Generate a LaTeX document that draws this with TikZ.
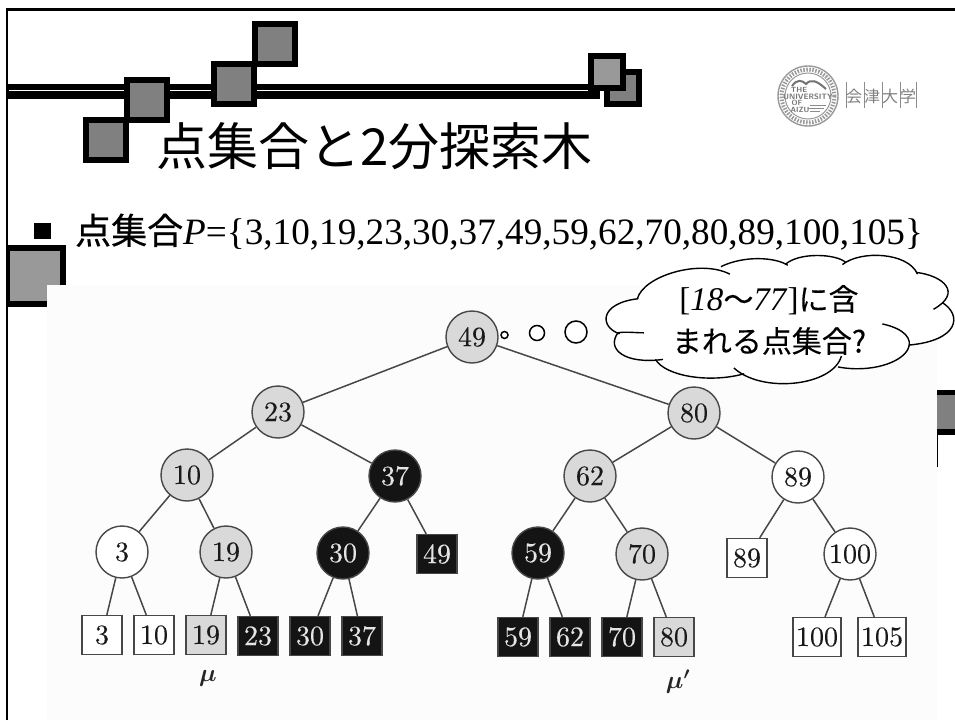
\documentclass[tikz,border=0pt]{standalone}
\usepackage{fontspec}
\setmainfont{Liberation Serif}
\newfontfamily\cjk{Noto Sans CJK JP}
\newfontfamily\cjkm[FakeBold=0.2]{Noto Sans CJK JP}
\newfontfamily\cjkb[FakeBold=0.5]{Noto Sans CJK JP}
\newfontfamily\cmr[FakeBold=0.25]{lmroman10-regular}[Extension=.otf]
\newcommand{\fsz}[1]{\fontsize{#1}{#1}\selectfont}
\begin{document}
\begin{tikzpicture}[x=1pt,y=-1pt,
  sq/.style={draw=black,line width=6pt,fill=#1,minimum size=40pt,inner sep=0pt,outer sep=0pt},
  edge/.style={draw=black!72,line width=1.5pt},
  tn/.style={circle,draw=black!72,line width=1.4pt,minimum size=52pt,inner sep=0pt,font=\cmr\fsz{28},text=black!90},
  gc/.style={tn,fill=black!15},
  wc/.style={tn,fill=white},
  bc/.style={tn,fill=black!92,text=black!10},
  lf/.style={draw=black!72,line width=1.3pt,minimum width=40pt,minimum height=39pt,inner sep=0pt,font=\cmr\fsz{28},text=black!90},
  gl/.style={lf,fill=black!15},
  wl/.style={lf,fill=white},
  bl/.style={lf,fill=black!92,text=black!10},
  wlw/.style={wl,minimum width=48pt},
  bub/.style={draw=black,line width=1.5pt,fill=white,circle,inner sep=0pt},
  cloudline/.style={draw=black,line width=1.4pt},
  logo/.style={draw=black!40},
  logotext/.style={inner sep=0pt,text=black!55,font=\sffamily\bfseries\fsz{7.5}},
]
\useasboundingbox (0,0) rectangle (955,720);
\fill[white] (0,0) rectangle (955,720);
% double rule
\fill[black] (7,84) rectangle (600,99);
\fill[white] (8.5,89.7) rectangle (600,91.2);
% squares
\node[sq=black!50] (s1) at (106,140) {};
\node[sq=black!50] (s2) at (147,100) {};
\node[sq=black!50] (s3) at (234,84) {};
\node[sq=black!50] (s4) at (275,44) {};
\node[sq=black!50,minimum size=32pt] (s5) at (623,88) {};
\node[sq=black!40,minimum size=32pt] (s6) at (607,72) {};
\fill[black] (7,245) rectangle (66,307);
\fill[black!40] (9.5,251) rectangle (59.5,301);
% right side fragment
\fill[black] (937,390) rectangle (955,435);
\fill[black!50] (937,395) rectangle (955,429);
\draw[black,line width=1.2pt] (937.5,435) -- (937.5,467);
% photo area
\fill[black!1] (47,285) rectangle (937,720);
% frame
\draw[black,line width=2.5pt] (7.2,720) -- (7.2,9.5) -- (955,9.5);
% logo
\draw[logo,line width=1.4pt,fill=white] (808,96) circle (30);
\draw[logo,line width=4pt,dash pattern=on 1.5pt off 1.5pt] (808,96) circle (26.5);
\draw[logo,line width=1pt] (808,96) circle (23);
\draw[black!55,line width=2pt] (792,86) .. controls (797,79) and (802,80) .. (806,84) .. controls (811,79) and (816,80) .. (826,89);
\node[logotext] (lg1) at (799,89.5) {THE};
\node[logotext,font=\sffamily\bfseries\fsz{7.8}] (lg2) at (808,96.5) {UNIVERSITY};
\node[logotext] (lg3) at (797,103) {OF};
\node[logotext] (lg4) at (800,110) {AIZU};
\draw[black!45,line width=0.8pt] (810,105) -- (826,105) (808,108) -- (824,108) (810,111) -- (820,111);
\node[inner sep=0pt,text=black!50,font=\cjk\fsz{16}] (lg5) at (881,96) {会\hspace{2pt}津\hspace{2pt}大\hspace{2pt}学};
\foreach \xx in {846,864,882.5,900,916}{\draw[black!45,line width=0.9pt] (\xx,82) -- (\xx,108);}
% title
\node[inner sep=0pt,anchor=west,font=\cjk\fsz{51}] (title) at (156,146) {点集合と2分探索木};
% bullet
\fill[black] (34,223) rectangle (51,239);
\node[inner sep=0pt,anchor=base west,font=\fsz{37.2}] (pts) at (75,244) {{\cjkb\fsz{36}点集合}\textit{P}=\{3,10,19,23,30,37,49,59,62,70,80,89,100,105\}};
% tree
\node[gc] (n49) at (472,337) {49};
\node[gc] (n23) at (278,412) {23};
\node[gc] (n80) at (694,413) {80};
\node[gc] (n10) at (187,475) {10};
\node[bc] (n37) at (395,476) {37};
\node[gc] (n62) at (590,476) {62};
\node[wc] (n89) at (798,477) {89};
\node[wc] (n3) at (122,552) {3};
\node[gc] (n19) at (226,552) {19};
\node[bc] (n30) at (343,553) {30};
\node[bl] (l49) at (437,554) {49};
\node[bc] (n59) at (538,553) {59};
\node[gc] (n70) at (642,554) {70};
\node[wl] (l89) at (747,558) {89};
\node[wc] (n100) at (850,554) {100};
\node[wl] (l3) at (102,635) {3};
\node[wl] (l10) at (154,635) {10};
\node[gl] (l19) at (206,635) {19};
\node[bl] (l23) at (258,636) {23};
\node[bl] (l30) at (310,636) {30};
\node[bl] (l37) at (362,636) {37};
\node[bl] (l59) at (518,637) {59};
\node[bl] (l62) at (570,637) {62};
\node[bl] (l70) at (622,637) {70};
\node[gl] (l80) at (674,637) {80};
\node[wlw] (l100) at (817,637) {100};
\node[wlw] (l105) at (882,637) {105};
\node[inner sep=0pt,text=black!85,font=\fsz{26}\boldmath] (mu) at (208,678) {$\mu$};
\node[inner sep=0pt,text=black!85,font=\fsz{26}\boldmath] (mup) at (678,682) {$\mu'$};
\foreach \a/\b in {n49/n23,n49/n80,n23/n10,n23/n37,n80/n62,n80/n89,n10/n3,n10/n19,n37/n30,n37/l49,n62/n59,n62/n70,n89/l89,n89/n100,n3/l3,n3/l10,n19/l19,n19/l23,n30/l30,n30/l37,n59/l59,n59/l62,n70/l70,n70/l80,n100/l100,n100/l105}
  {\draw[edge] (\a) -- (\b);}
% bubbles
\node[bub,minimum size=7pt] (b1) at (504.5,335) {};
\node[bub,minimum size=15pt] (b2) at (537,333) {};
\node[bub,minimum size=22pt] (b3) at (576,332) {};
% cloud
\begin{scope}[x=0.3412pt,y=-0.3412pt,shift={(1231,703.4)}]
\fill[white] (637,170) .. controls (660,110) and (780,70) .. (880,85)
  .. controls (960,50) and (1060,45) .. (1085,72)
  .. controls (1140,40) and (1240,35) .. (1245,65)
  .. controls (1340,30) and (1430,50) .. (1458,98)
  .. controls (1530,105) and (1575,150) .. (1540,190)
  .. controls (1590,220) and (1570,295) .. (1432,308)
  .. controls (1420,350) and (1330,390) .. (1225,372)
  .. controls (1200,440) and (1000,445) .. (920,378)
  .. controls (850,415) and (720,395) .. (690,350)
  .. controls (600,365) and (550,320) .. (580,272)
  .. controls (530,255) and (525,185) .. (637,172) -- cycle;
\draw[cloudline] (637,172) .. controls (655,105) and (820,55) .. (908,100);
\draw[cloudline] (882,78) .. controls (950,45) and (1040,50) .. (1078,74);
\draw[cloudline] (1070,72) .. controls (1110,35) and (1220,40) .. (1248,66);
\draw[cloudline] (1238,72) .. controls (1290,30) and (1430,35) .. (1458,100);
\draw[cloudline] (1455,95) .. controls (1535,105) and (1590,155) .. (1505,203);
\draw[cloudline] (1530,183) .. controls (1590,220) and (1580,295) .. (1432,308);
\draw[cloudline] (1355,246) .. controls (1420,260) and (1445,290) .. (1430,320) .. controls (1410,360) and (1320,390) .. (1225,372);
\draw[cloudline] (1235,340) .. controls (1210,430) and (1000,450) .. (920,375);
\draw[cloudline] (950,392) .. controls (850,420) and (720,400) .. (690,350);
\draw[cloudline] (712,350) .. controls (600,365) and (545,320) .. (580,272) .. controls (600,268) and (630,272) .. (656,272);
\draw[cloudline] (585,275) .. controls (525,255) and (525,185) .. (640,172);
\end{scope}
\node[inner sep=0pt,font=\cjkm\fsz{30}] (c1) at (769,300) {{\rmfamily\fsz{33}[\textit{18}}{\cjkb〜}{\rmfamily\fsz{33}\textit{77}]}に含};
\node[inner sep=0pt,font=\cjkm\fsz{30}] (c2) at (769,341) {まれる点集合?};
\end{tikzpicture}
\end{document}
